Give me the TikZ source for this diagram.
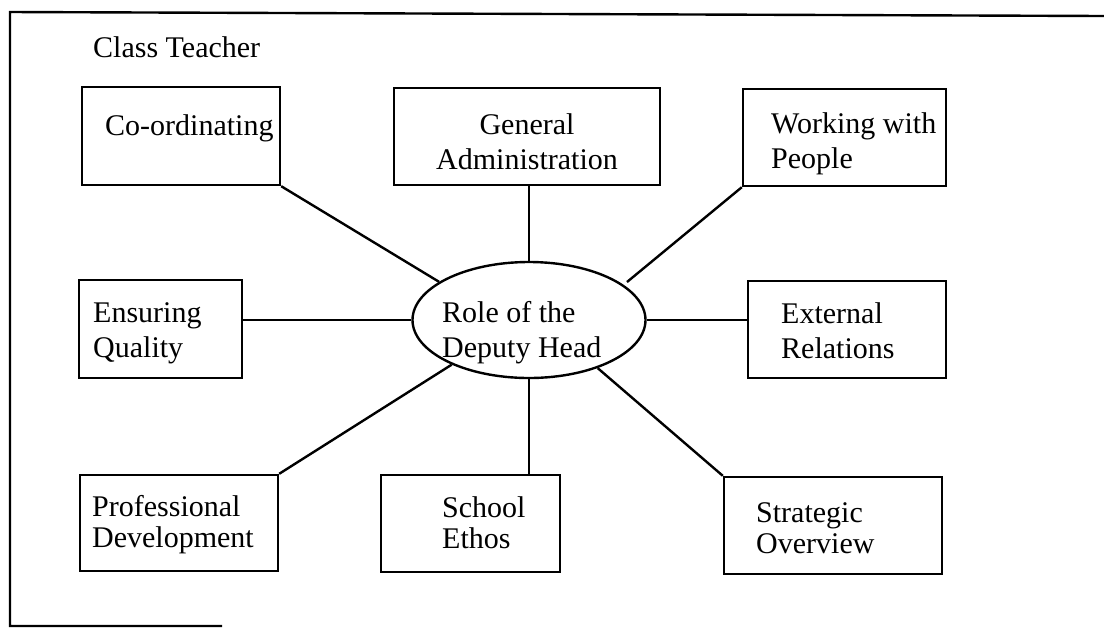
\documentclass[tikz,border=0pt]{standalone}
\usepackage{fontspec}
\setmainfont{Liberation Serif}
\usetikzlibrary{shapes.geometric,fit}
\newcommand{\twoL}[2]{\vtop{\hbox{#1}\hbox{#2}}}
\newcommand{\twoC}[2]{\vtop{\halign{\hfil##\hfil\cr #1\cr #2\cr}}}
\begin{document}
\begin{tikzpicture}[x=0.5pt,y=-0.5pt,line width=1.2pt,
  box/.style={draw, rectangle, inner sep=0pt},
  lbl/.style={inner sep=0pt, font=\fontsize{15}{17.5}\selectfont},
  lbltight/.style={inner sep=0pt, font=\fontsize{15}{15.8}\selectfont},
  oval/.style={draw, ellipse, inner sep=0pt, minimum width=116.5pt, minimum height=58pt}]
\useasboundingbox (0,0) rectangle (1104,628);
% frame
\draw (1104,16) -- (10,12) -- (10,626) -- (222,626);
\node[lbl, anchor=base west] (classT) at (92,57) {Class Teacher};
% boxes
\node[box, fit={(82,87) (280,185)}] (cord) {};
\node[box, fit={(394,88) (660,185)}] (gen) {};
\node[box, fit={(743,89) (946,186)}] (work) {};
\node[box, fit={(79,280) (242,378)}] (ens) {};
\node[box, fit={(748,281) (946,378)}] (ext) {};
\node[box, fit={(80,475) (278,571)}] (prof) {};
\node[box, fit={(381,475) (560,572)}] (school) {};
\node[box, fit={(724,477) (942,574)}] (strat) {};
\node[oval] (ell) at (529,320) {};
% texts
\node[lbl, anchor=base west] (cordT) at (104,135) {Co-ordinating};
\node[lbl, anchor=base] (genT) at (527,134) {\twoC{General}{Administration}};
\node[lbl, anchor=base west] (workT) at (770,133) {\twoL{Working with}{People}};
\node[lbl, anchor=base west] (ensT) at (92,322) {\twoL{Ensuring}{Quality}};
\node[lbl, anchor=base west] (roleT) at (441,322) {\twoL{Role of the}{Deputy Head}};
\node[lbl, anchor=base west] (extT) at (780,323) {\twoL{External}{Relations}};
\node[lbltight, anchor=base west] (profT) at (91,516) {\twoL{Professional}{Development}};
\node[lbltight, anchor=base west] (schoolT) at (441,517) {\twoL{School}{Ethos}};
\node[lbltight, anchor=base west] (stratT) at (755,522) {\twoL{Strategic}{Overview}};
% connectors
\coordinate (wEnd) at (627,282);
\draw (cord.south east) -- (ell.157);
\draw (gen.south -| ell.north) -- (ell.north);
\draw (work.south west) -- (wEnd);
\draw (ell.west) -- (ell.west -| ens.east);
\draw (ell.east) -- (ell.east -| ext.west);
\draw (prof.north east) -- (ell.210);
\draw (ell.south) -- (ell.south |- school.north);
\draw (strat.north west) -- (ell.325);
\end{tikzpicture}
\end{document}
